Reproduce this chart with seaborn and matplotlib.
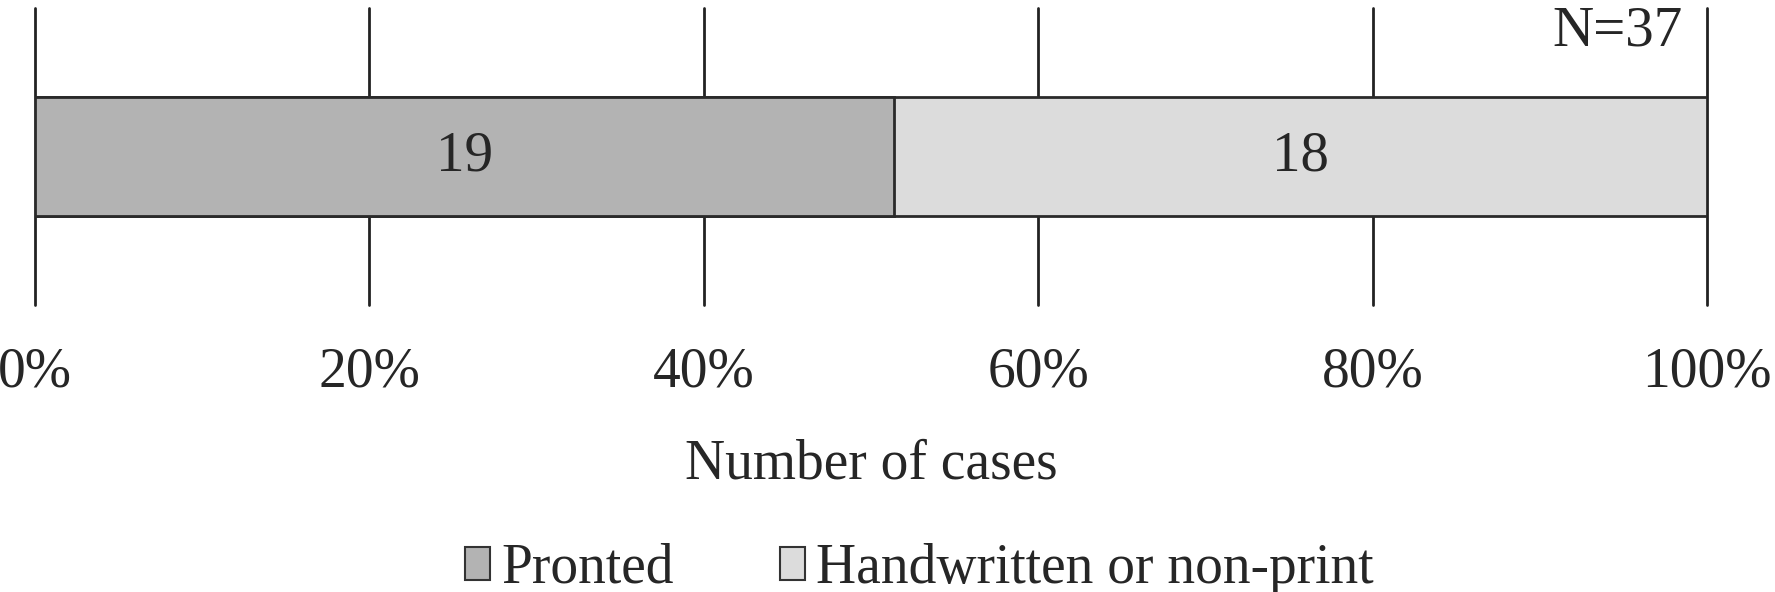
import pandas as pd
import numpy as np
import seaborn as sns
import matplotlib.pyplot as plt
from matplotlib.patches import Patch

categories = ["Pronted", "Handwritten or non-print"]
counts = [19, 18]
bar_colours = ["#b3b3b3", "#dcdcdc"]
x_ticks = [0, 20, 40, 60, 80, 100]
x_ticklabels = ["0%", "20%", "40%", "60%", "80%", "100%"]

total = sum(counts)
pct = np.array(counts) / total * 100
cum_pct = np.cumsum(pct)

sns.set_style("white")
plt.rcParams['font.family'] = ['Liberation Serif', 'DejaVu Serif']
plt.rcParams['font.size'] = 40

fig = plt.figure(figsize=(17.75, 5.92), dpi=100)
ax = fig.add_axes([0.0197, 0.4848, 0.942, 0.5017])

# stacked bar: draw cumulative totals from the largest down
for i in reversed(range(len(categories))):
    df = pd.DataFrame({'row': [''], 'value': [cum_pct[i]]})
    sns.barplot(data=df, x='value', y='row', color=bar_colours[i], orient='h',
                width=0.4, edgecolor='#2a2a2a', linewidth=2, saturation=1,
                ax=ax, zorder=3)

starts = np.concatenate([[0], cum_pct[:-1]])
for s, p, c in zip(starts, pct, counts):
    ax.text(s + p / 2, 0, str(c), ha='center', va='center', fontsize=41, zorder=4)

ax.text(0.9856, 0.922, f"N={total}", transform=ax.transAxes,
        ha='right', va='center', fontsize=41)

ax.set_xlim(0, 100)
ax.set_ylim(0.5, -0.5)
ax.set_xticks(x_ticks)
ax.set_xticklabels(x_ticklabels)
ax.set_yticks([])
ax.set_ylabel("")
ax.set_xlabel("Number of cases", labelpad=29)
ax.tick_params(axis='x', length=0, pad=30)
for v in x_ticks:
    ax.axvline(v, color='#222222', linewidth=2, zorder=1, clip_on=False)
for sp in ax.spines.values():
    sp.set_visible(False)

handles = [Patch(facecolor=c, edgecolor='#333333', linewidth=1.5) for c in bar_colours]
fig.legend(handles, categories, loc='center', bbox_to_anchor=(0.518, 0.039), ncol=2,
           frameon=False, handlelength=0.45, handleheight=0.54, handletextpad=0.2,
           columnspacing=1.9, borderaxespad=0, fontsize=40)

fig.savefig("out.png", dpi=100)
